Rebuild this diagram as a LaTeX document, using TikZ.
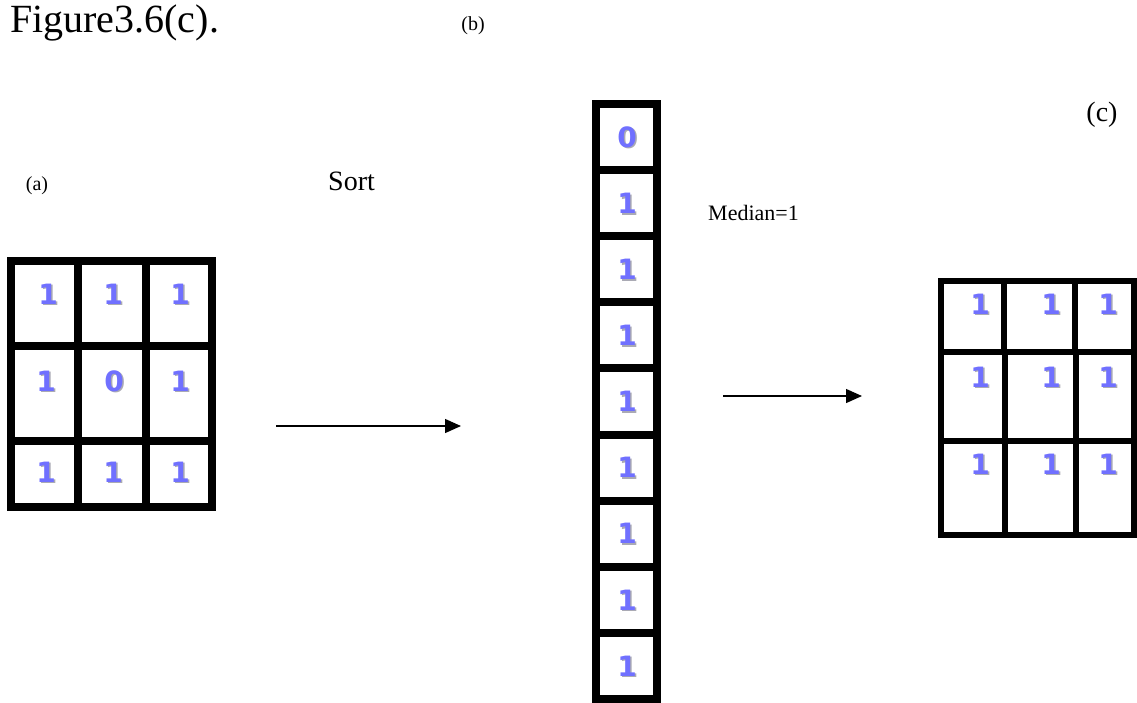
\documentclass[tikz,border=0pt]{standalone}
\usepackage{fontspec}
\setmainfont{Liberation Serif}
\newfontfamily\digfont{DejaVu Sans}
\usetikzlibrary{arrows.meta}
\definecolor{digblue}{RGB}{112,112,255}
\definecolor{digshadow}{RGB}{170,170,180}
\tikzset{
  thickgrid/.style={line width=8pt, line cap=rect},
  thingrid/.style={line width=6pt, line cap=rect},
  num/.style={font=\digfont\bfseries\fontsize{28}{28}\selectfont, text=digblue, inner sep=0pt},
  numshadow/.style={num, text=digshadow, xshift=1.6pt, yshift=-1.6pt},
  lbl/.style={inner sep=0pt},
  flow/.style={line width=1.3pt, -{Triangle[length=16pt,width=14pt]}}
}
\newcommand\dgt[4]{%
  \node[numshadow] at (#1,#2) {#3};
  \node[num] (#4) at (#1,#2) {#3};}
\begin{document}
\begin{tikzpicture}[x=1pt,y=-1pt]
\path[use as bounding box] (0,0) rectangle (1137,702);

% titles and labels
\node[lbl, anchor=base west, font=\fontsize{40}{40}\selectfont] (title) at (10,32) {Figure3.6(c).};
\node[lbl, font=\fontsize{20}{20}\selectfont] (lb) at (473,26) {(b)};
\node[lbl, font=\fontsize{20}{20}\selectfont] (la) at (37,186) {(a)};
\node[lbl, anchor=base west, font=\fontsize{28}{28}\selectfont] (sort) at (328,190) {Sort};
\node[lbl, anchor=base west, font=\fontsize{22}{22}\selectfont] (median) at (708,220) {Median=1};
\node[lbl, font=\fontsize{28}{28}\selectfont] (lc) at (1102,115) {(c)};

% grid (a)
\draw[thickgrid] (11,261) rectangle (212,507);
\draw[thickgrid] (78,261) -- (78,507);
\draw[thickgrid] (146,261) -- (146,507);
\draw[thickgrid] (11,346) -- (212,346);
\draw[thickgrid] (11,441) -- (212,441);
\dgt{48}{294}{1}{a11}\dgt{113}{294}{1}{a12}\dgt{180}{294}{1}{a13}
\dgt{46}{381}{1}{a21}\dgt{114}{381}{0}{a22}\dgt{180}{381}{1}{a23}
\dgt{46}{472}{1}{a31}\dgt{113}{472}{1}{a32}\dgt{180}{472}{1}{a33}

% column (b)
\draw[thickgrid] (596,104) rectangle (657,699);
\foreach \k in {1,...,8} {
  \draw[thickgrid] (596,104+66.1*\k) -- (657,104+66.1*\k);
}
\dgt{627}{137}{0}{b1}
\foreach \k in {2,...,9} {
  \dgt{627}{104+66.1*\k-33}{1}{b\k}
}

% grid (c)
\draw[thingrid] (941,281) rectangle (1134,535);
\draw[thingrid] (1004,281) -- (1004,352);
\draw[thingrid] (1075,281) -- (1075,352);
\draw[thingrid] (1005,352) -- (1005,535);
\draw[thingrid] (1076,352) -- (1076,535);
\draw[thingrid] (941,352) -- (1134,352);
\draw[thingrid] (941,441) -- (1134,441);
\dgt{980}{304}{1}{c11}\dgt{1051}{304}{1}{c12}\dgt{1108}{304}{1}{c13}
\dgt{980}{377}{1}{c21}\dgt{1051}{377}{1}{c22}\dgt{1108}{377}{1}{c23}
\dgt{980}{464}{1}{c31}\dgt{1051}{464}{1}{c32}\dgt{1108}{464}{1}{c33}

% arrows
\coordinate (s1) at (276,426);
\coordinate (e1) at (461,426);
\coordinate (s2) at (723,396);
\coordinate (e2) at (862,396);
\draw[flow] (s1) -- (e1);
\draw[flow] (s2) -- (e2);
\end{tikzpicture}
\end{document}
